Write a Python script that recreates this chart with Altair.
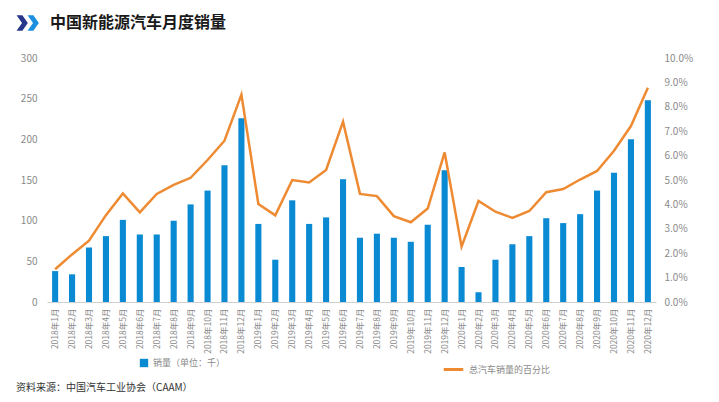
import altair as alt
import pandas as pd

months = [f"{y}年{m}月" for y in (2018, 2019, 2020) for m in range(1, 13)]
sales = [38, 34, 67, 81, 101, 83, 83, 100, 120, 137, 168, 226,
         96, 52, 125, 96, 104, 151, 79, 84, 79, 74, 95, 162,
         43, 12, 52, 71, 81, 103, 97, 108, 137, 159, 200, 248]
pct = [1.34, 1.95, 2.51, 3.56, 4.45, 3.67, 4.43, 4.80, 5.09, 5.82, 6.61, 8.50,
       4.02, 3.55, 5.00, 4.90, 5.41, 7.39, 4.43, 4.34, 3.52, 3.27, 3.83, 6.13,
       2.27, 4.14, 3.70, 3.45, 3.73, 4.50, 4.63, 5.02, 5.37, 6.20, 7.21, 8.78]

bar_name = "销量（单位：千）"
line_name = "总汽车销量的百分比"
title_text = "中国新能源汽车月度销量"
source_text = "资料来源：中国汽车工业协会（CAAM）"

df = pd.DataFrame({"month": months, "sales": sales,
                   "pct": [p / 100 for p in pct],
                   "bar": bar_name, "line": line_name})

FONT = "Noto Sans CJK SC"
GRAY = "#8a8a8a"
BLUE = "#0a8ad3"
ORANGE = "#ee8a32"

xenc = alt.X("month:N", sort=months, title=None,
             scale=alt.Scale(paddingInner=0.64, paddingOuter=0.3),
             axis=alt.Axis(labelAngle=-90, labelFont=FONT, labelFontSize=8.5,
                           labelColor=GRAY, ticks=False, domainColor="#d0d0d0",
                           labelPadding=6, labelBaseline="middle", labelAlign="right"))

base = alt.Chart(df)

bars = base.mark_bar(color=BLUE).encode(
    x=xenc,
    y=alt.Y("sales:Q", title=None,
            scale=alt.Scale(domain=[0, 300]),
            axis=alt.Axis(values=[0, 50, 100, 150, 200, 250, 300], grid=False,
                          domain=False, ticks=False, labelFont=FONT, labelFontSize=10,
                          labelColor=GRAY, labelPadding=10, orient="left")),
    color=alt.Color("bar:N", scale=alt.Scale(domain=[bar_name], range=[BLUE]),
                    legend=alt.Legend(title=None, orient="none", legendX=92, legendY=300,
                                      symbolType="square", symbolSize=70,
                                      labelFont=FONT, labelFontSize=9, labelColor=GRAY,
                                      labelOffset=4)),
)

line = base.mark_line(strokeWidth=2.5, color=ORANGE).encode(
    x=xenc,
    y=alt.Y("pct:Q", title=None,
            scale=alt.Scale(domain=[0, 0.1]),
            axis=alt.Axis(values=[i / 100 for i in range(11)], format=".1%", grid=False,
                          domain=False, ticks=False, labelFont=FONT, labelFontSize=10,
                          labelColor=GRAY, labelPadding=8, orient="right")),
    stroke=alt.Stroke("line:N", scale=alt.Scale(domain=[line_name], range=[ORANGE]),
                      legend=alt.Legend(title=None, orient="none", legendX=395, legendY=300,
                                        symbolType="stroke", symbolSize=380,
                                        symbolStrokeWidth=3,
                                        labelFont=FONT, labelFontSize=9, labelColor=GRAY,
                                        labelOffset=4)),
)

title_df = pd.DataFrame({"t": [title_text]})
title = alt.Chart(title_df).mark_text(
    font=FONT, fontSize=16, fontWeight="bold", color="#1a1a1a",
    align="left", baseline="middle").encode(
    x=alt.value(3), y=alt.value(-35), text="t:N")

source_df = pd.DataFrame({"t": [source_text]})
source = alt.Chart(source_df).mark_text(
    font=FONT, fontSize=10, color="#333333",
    align="left", baseline="middle").encode(
    x=alt.value(-31), y=alt.value(330), text="t:N")

chev = "M-0.7,-1 L0.05,-1 L0.75,0 L0.05,1 L-0.7,1 L0,0 Z"
icon1 = alt.Chart(pd.DataFrame({"k": ["a"]})).mark_point(
    shape=chev, filled=True, size=240, color="#27378c", opacity=1, strokeWidth=0).encode(
    x=alt.value(-25), y=alt.value(-35))
icon2 = alt.Chart(pd.DataFrame({"k": ["b"]})).mark_point(
    shape=chev, filled=True, size=240, color="#1c8fe0", opacity=1, strokeWidth=0).encode(
    x=alt.value(-14), y=alt.value(-35))

chart = alt.layer(bars, line, title, source, icon1, icon2).resolve_scale(
    y="independent").resolve_legend(color="independent", stroke="independent").properties(
    width=609, height=244,
    autosize=alt.AutoSizeParams(type="none"),
    padding={"left": 39, "top": 50, "right": 55, "bottom": 94},
    background="white",
).configure_view(stroke=None)

chart.save("out.html", embed_options={"renderer": "svg", "actions": False})
